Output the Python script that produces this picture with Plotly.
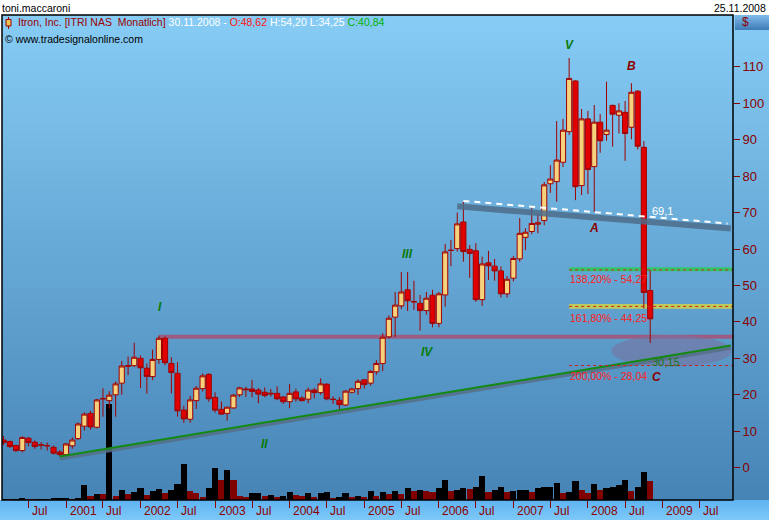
import zlib, struct, base64
import pandas as pd
import plotly.graph_objects as go

# ---------------- data ----------------
months = pd.date_range("2000-03-01", "2008-11-01", freq="MS")

opens = [7.6, 7.2, 6.1, 4.7, 8.1, 7.0, 6.3, 6.1, 5.6, 4.3,
         3.6, 6.0, 8.0, 11.4, 14.9, 11.1, 19.0, 18.4, 20.0, 23.2, 27.8, 28.0,
         30.0, 27.3, 25.0, 29.7, 35.5, 28.6, 25.9, 15.8, 13.3, 18.4, 21.7, 25.6,
         19.3, 16.0, 14.9, 16.4, 20.0, 21.6, 21.6, 21.3, 20.7, 20.2, 20.4, 19.4,
         18.1, 20.8, 19.1, 18.8, 21.3, 20.6, 22.9, 18.8, 18.5, 17.2, 20.7, 21.7,
         24.1, 23.2, 26.3, 28.6, 35.9, 41.3, 44.4, 48.8, 45.6, 45.1, 43.1, 47.3,
         39.6, 47.4, 59.7, 60.1, 67.4, 59.9, 59.5, 46.1, 56.2, 55.3, 54.0, 47.7,
         52.0, 57.3, 63.2, 64.8, 66.8, 67.8, 77.9, 78.5, 83.8, 92.2, 106.1, 77.4,
         95.7, 82.6, 94.8, 91.4, 99.4, 96.7, 97.5, 93.4, 103.3, 87.9, 48.62]
highs = [8.7, 7.4, 6.3, 8.6, 8.4, 7.5, 7.0, 6.9, 6.1, 4.8,
         6.8, 8.3, 12.4, 15.2, 15.6, 18.9, 21.8, 21.0, 23.7, 29.3, 30.5, 34.3,
         30.8, 28.6, 32.4, 36.2, 36.0, 30.3, 29.0, 17.0, 19.7, 22.4, 25.9, 25.9,
         20.7, 18.2, 16.7, 20.2, 22.2, 22.2, 24.1, 21.9, 22.0, 21.6, 22.3, 19.7,
         23.0, 21.7, 19.6, 22.0, 21.9, 24.5, 23.2, 19.6, 19.4, 21.3, 21.9, 24.3,
         24.3, 26.8, 29.5, 36.9, 41.8, 48.2, 53.7, 53.7, 51.3, 47.4, 48.2, 48.8,
         48.2, 61.4, 62.5, 70.0, 72.9, 61.1, 61.6, 57.9, 59.5, 57.3, 55.2, 52.6,
         58.1, 68.5, 65.7, 71.2, 69.8, 78.4, 83.0, 95.1, 95.7, 112.4, 106.3, 98.4,
         97.9, 99.5, 97.0, 105.9, 99.6, 100.0, 100.6, 105.5, 103.6, 89.6, 54.20]
lows = [6.2, 5.4, 4.3, 4.2, 5.9, 5.2, 5.0, 4.7, 3.6, 3.1,
        3.2, 5.2, 7.6, 10.2, 10.4, 10.8, 14.0, 16.2, 14.0, 20.0, 25.4, 27.6,
        21.9, 20.3, 24.0, 28.5, 28.1, 20.4, 14.0, 12.3, 12.3, 16.1, 20.9, 18.1,
        15.1, 14.5, 12.9, 16.2, 19.4, 19.4, 19.3, 17.7, 19.3, 19.5, 18.5, 17.5,
        16.3, 18.1, 18.2, 17.7, 19.0, 20.0, 18.5, 17.5, 16.0, 16.9, 20.4, 20.0,
        21.7, 22.5, 25.5, 26.5, 35.4, 35.9, 43.5, 43.0, 43.3, 37.6, 42.0, 38.5,
        38.5, 44.2, 55.3, 59.3, 56.5, 52.1, 45.5, 44.4, 51.5, 51.3, 46.7, 46.7,
        51.1, 56.5, 59.7, 64.1, 64.3, 66.5, 75.4, 73.0, 82.5, 91.3, 73.4, 74.8,
        75.1, 70.2, 86.4, 89.7, 88.1, 91.7, 84.2, 90.1, 87.3, 43.7, 34.25]
closes = [6.9, 5.8, 4.7, 8.3, 6.9, 5.8, 6.2, 6.0, 4.0, 3.6,
          6.5, 7.6, 12.0, 14.7, 11.2, 18.6, 18.9, 19.9, 23.0, 27.9, 28.0, 30.3,
          27.4, 25.0, 29.7, 35.5, 28.8, 26.1, 15.6, 13.4, 18.6, 21.8, 25.2, 18.9,
          15.8, 14.7, 16.6, 19.9, 21.9, 21.4, 20.9, 20.2, 19.8, 20.4, 18.9, 18.1,
          20.4, 18.9, 18.4, 21.3, 20.6, 23.0, 18.9, 18.7, 17.3, 21.0, 21.6, 23.7,
          22.8, 26.4, 28.6, 35.8, 41.0, 44.6, 48.2, 45.8, 45.5, 43.1, 46.5, 39.6,
          47.7, 59.2, 59.6, 66.9, 59.3, 58.8, 46.1, 55.9, 55.4, 54.0, 47.7, 51.7,
          57.4, 64.3, 64.6, 67.0, 67.2, 77.6, 79.2, 84.4, 92.6, 106.8, 77.1, 95.7,
          81.8, 94.8, 89.7, 92.6, 97.0, 97.9, 91.7, 103.0, 88.2, 48.1, 40.84]
volume = [0.05, 0.03, 0.03, 0.13, 0.05, 0.03, 0.03, 0.05, 0.13, 0.13,
          0.23, 0.10, 0.23, 1.53, 0.43, 0.63, 0.60, 9.60, 0.43, 1.03, 0.63, 0.83,
          1.23, 0.53, 0.93, 1.13, 0.73, 1.03, 1.63, 3.63, 0.93, 0.73, 0.33, 1.23,
          3.23, 2.03, 3.03, 2.03, 0.43, 0.33, 0.73, 0.75, 0.43, 0.53, 0.33, 0.36,
          0.83, 0.53, 0.43, 0.73, 0.33, 0.73, 0.83, 0.23, 0.33, 0.73, 0.33, 0.43,
          0.33, 0.93, 0.43, 0.83, 0.63, 0.93, 0.63, 1.23, 0.93, 1.03, 0.93, 0.83,
          1.23, 2.03, 0.93, 1.03, 1.23, 1.13, 1.33, 2.43, 0.83, 1.03, 1.33, 0.83,
          0.93, 1.03, 1.04, 0.83, 1.23, 1.32, 1.34, 1.73, 0.73, 0.83, 1.93, 1.03,
          0.73, 1.63, 1.03, 1.23, 1.33, 1.53, 2.03, 0.93, 1.33, 2.83, 1.93]

tick_dates = ["2000-07-01", "2001-01-01", "2001-07-01", "2002-01-01", "2002-07-01",
              "2003-01-01", "2003-07-01", "2004-01-01", "2004-07-01", "2005-01-01",
              "2005-07-01", "2006-01-01", "2006-07-01", "2007-01-01", "2007-07-01",
              "2008-01-01", "2008-07-01", "2009-01-01", "2009-07-01"]
tick_labels = ["Jul", "2001", "Jul", "2002", "Jul", "2003", "Jul", "2004", "Jul", "2005",
               "Jul", "2006", "Jul", "2007", "Jul", "2008", "Jul", "2009", "Jul"]
price_ticks = [0, 10, 20, 30, 40, 50, 60, 70, 80, 90, 100, 110]

# trend lines (anchor points)
support_x = ["2000-12-01", "2009-12-01"]
support_y = [3.1, 33.5]
neck_x = ["2006-04-01", "2009-12-01"]
neck_y = [71.7, 65.6]
dash_x = ["2006-05-01", "2009-11-15"]
dash_y = [73.2, 67.0]

# horizontal levels
resist_level = [35.35, 36.45]
resist_start = "2002-04-01"
fib_start = "2007-10-01"
fib_pct = ["138,20%", "161,80%", "200,00%"]
fib_val = [54.27, 44.25, 28.04]
fib_band_lo = [53.88, 43.60]
fib_band_hi = [54.98, 44.90]
target_x = ["2008-04-25", "2009-12-05"]
target_y = [27.7, 36.4]

# ---------------- geometry helpers ----------------
W, H = 769, 520
L, R, T, B = 2, 36, 15, 20
PW, PH = W - L - R, H - T - B


def px(x):
    return (x - L) / PW


def py(y):
    return (H - B - y) / PH


BASE = pd.Timestamp("2001-01-01")


def mdate(m):
    return BASE + pd.Timedelta(days=m * 30.4375)


X_LEFT, X_RIGHT = mdate(-10.30), mdate(107.32)
PRICE_RANGE = [-8.86, 124.2]


def grad_png(top, bottom, h):
    raw = b""
    for i in range(h):
        t = i / (h - 1)
        raw += b"\x00" + bytes(int(round(top[k] + (bottom[k] - top[k]) * t)) for k in range(3))

    def chunk(tag, data):
        return (struct.pack(">I", len(data)) + tag + data +
                struct.pack(">I", zlib.crc32(tag + data) & 0xffffffff))
    png = (b"\x89PNG\r\n\x1a\n" +
           chunk(b"IHDR", struct.pack(">IIBBBBB", 1, h, 8, 2, 0, 0, 0)) +
           chunk(b"IDAT", zlib.compress(raw)) + chunk(b"IEND", b""))
    return "data:image/png;base64," + base64.b64encode(png).decode()


DARKRED = "#8B0000"
NARROW = "Liberation Sans Narrow, Arial Narrow, Liberation Sans, Arial"
SANS = "Liberation Sans, Arial"

fig = go.Figure()

# volume (hidden axis y)
vcolors = ["#000000"] + ["#000000" if volume[i] >= volume[i - 1] else "#800000"
                         for i in range(1, len(volume))]
fig.add_trace(go.Bar(x=months, y=volume, marker=dict(color=vcolors, line=dict(width=0)),
                     width=30 * 86400000, yaxis="y", hoverinfo="skip", showlegend=False))

# trend-line shadows and lines
fig.add_trace(go.Scatter(x=neck_x, y=neck_y, mode="lines", yaxis="y2",
                         line=dict(color="rgba(78,108,138,0.85)", width=6),
                         hoverinfo="skip", showlegend=False))
fig.add_trace(go.Scatter(x=dash_x, y=dash_y, mode="lines", yaxis="y2",
                         line=dict(color="white", width=2, dash="6px,5px"),
                         hoverinfo="skip", showlegend=False))
fig.add_trace(go.Scatter(x=support_x, y=[v - 0.6 for v in support_y], mode="lines", yaxis="y2",
                         line=dict(color="rgba(85,110,135,0.85)", width=4),
                         hoverinfo="skip", showlegend=False))
fig.add_trace(go.Scatter(x=support_x, y=support_y, mode="lines", yaxis="y2",
                         line=dict(color="#138a13", width=2),
                         hoverinfo="skip", showlegend=False))

# fib dotted lines
for v in fib_val:
    fig.add_trace(go.Scatter(x=[fib_start, X_RIGHT], y=[v, v], mode="lines", yaxis="y2",
                             line=dict(color="#d02020", width=1, dash="dot"),
                             hoverinfo="skip", showlegend=False))

# candles
fig.add_trace(go.Candlestick(
    x=months, open=opens, high=highs, low=lows, close=closes, yaxis="y2",
    increasing=dict(line=dict(color="#A00000", width=1), fillcolor="#F6D27C"),
    decreasing=dict(line=dict(color="#A00000", width=1), fillcolor="#E00000"),
    whiskerwidth=0, hoverinfo="skip", showlegend=False))

shapes = []
# bands
shapes.append(dict(type="rect", xref="x", yref="y2", x0=resist_start, x1=X_RIGHT,
                   y0=resist_level[0], y1=resist_level[1], fillcolor="rgba(190,60,90,0.65)",
                   line=dict(width=0), layer="below"))
shapes.append(dict(type="rect", xref="x", yref="y2", x0=fib_start, x1=X_RIGHT,
                   y0=fib_band_lo[0], y1=fib_band_hi[0], fillcolor="rgba(40,205,80,0.8)",
                   line=dict(width=0), layer="below"))
shapes.append(dict(type="rect", xref="x", yref="y2", x0=fib_start, x1=X_RIGHT,
                   y0=fib_band_lo[1], y1=fib_band_hi[1], fillcolor="rgba(205,210,70,0.85)",
                   line=dict(width=0), layer="below"))
shapes.append(dict(type="circle", xref="x", yref="y2", x0=target_x[0], x1=target_x[1],
                   y0=target_y[0], y1=target_y[1], fillcolor="rgba(120,115,160,0.6)",
                   line=dict(width=0), layer="below"))
# plot border
shapes.append(dict(type="rect", xref="paper", yref="paper", x0=0, x1=1, y0=0, y1=1,
                   line=dict(color="black", width=1.5), layer="above"))
# legend glyph
shapes.append(dict(type="line", xref="paper", yref="paper", x0=px(8.5), x1=px(8.5),
                   y0=py(17), y1=py(29), line=dict(color="#990000", width=1)))
shapes.append(dict(type="rect", xref="paper", yref="paper", x0=px(6), x1=px(11),
                   y0=py(19.5), y1=py(26), fillcolor="#F0C050",
                   line=dict(color="#990000", width=1)))

images = [
    dict(source=grad_png((134, 204, 245), (70, 132, 182), 485), xref="paper", yref="paper",
         x=0, y=1, sizex=(W - L) / PW, sizey=1, sizing="stretch", layer="below",
         xanchor="left", yanchor="top"),
    dict(source=grad_png((95, 180, 242), (125, 200, 248), 20), xref="paper", yref="paper",
         x=px(0), y=0, sizex=W / PW, sizey=20 / PH, sizing="stretch", layer="below",
         xanchor="left", yanchor="top"),
    dict(source=grad_png((125, 185, 232), (65, 125, 185), 16), xref="paper", yref="paper",
         x=px(735), y=1, sizex=34 / PW, sizey=15 / PH, sizing="stretch", layer="below",
         xanchor="left", yanchor="top"),
]

ann = []


def add_text(x, y, text, color, size=11, family=SANS, xanchor="left", **kw):
    ann.append(dict(x=px(x), y=py(y), xref="paper", yref="paper", text=text, showarrow=False,
                    xanchor=xanchor, yanchor="middle", font=dict(color=color, size=size, family=family),
                    **kw))


add_text(0, 7.5, "toni.maccaroni", "black", 10.5)
add_text(768, 7.5, "25.11.2008", "black", 10.5, xanchor="right")
add_text(16, 22.5,
         "Itron, Inc. [ITRI NAS\u00a0\u00a0Monatlich] "
         "<span style='color:white'>30.11.2008 - </span>"
         "<span style='color:#ff1010'>O:48,62 </span>"
         "<span style='color:white'>H:54,20 L:34,25 </span>"
         "<span style='color:#00b000'>C:40,84</span>", "#990000", 10.5)
add_text(3, 38.5, "\u00a9 www.tradesignalonline.com", "black", 10.5)
add_text(740, 22.5, "$", DARKRED, 12)

# fib labels
for pct, v, yy in zip(fib_pct, fib_val, [278.5, 317.5, 375.5]):
    add_text(568, yy, f"{pct} - {v:.2f}".replace(".", ","), "#ff2020", 10.5)
add_text(650, 210.5, "69,1", "white", 11)
add_text(650, 362, "30,15", "#127a12", 11)

# wave labels
GREEN_W = "#0a7a0a"
RED_W = "#8B0000"
for txt, x, y, c in [("I", 159.5, 306.5, GREEN_W), ("II", 264.5, 443.5, GREEN_W),
                     ("III", 407.5, 253.5, GREEN_W), ("IV", 427, 351.5, GREEN_W),
                     ("V", 569, 44.5, GREEN_W), ("A", 594, 227.5, RED_W),
                     ("B", 631, 66.5, RED_W), ("C", 656, 377, RED_W)]:
    add_text(x, y, f"<b><i>{txt}</i></b>", c, 12, "Liberation Sans, Arial", xanchor="center")

# x tick labels
for d, lab in zip(tick_dates, tick_labels):
    ann.append(dict(x=d, xref="x", y=py(511.5), yref="paper", text=lab, showarrow=False,
                    xanchor="left", yanchor="middle", xshift=1.5,
                    font=dict(color=DARKRED, size=12, family=NARROW)))

fig.update_layout(
    width=W, height=H, margin=dict(l=L, r=R, t=T, b=B, pad=0),
    paper_bgcolor="white", plot_bgcolor="rgba(0,0,0,0)",
    showlegend=False, bargap=0, boxgap=0.1, boxgroupgap=0,
    xaxis=dict(type="date", range=[X_LEFT, X_RIGHT], tickvals=tick_dates, showticklabels=False,
               ticks="outside", ticklen=7, tickwidth=1, tickcolor=DARKRED,
               showgrid=False, zeroline=False, showline=False, rangeslider=dict(visible=False),
               fixedrange=True),
    yaxis=dict(range=[0, 48.5], visible=False, fixedrange=True),
    yaxis2=dict(range=PRICE_RANGE, overlaying="y", side="right", anchor="x",
                tickvals=price_ticks, ticks="outside", ticklen=6, tickwidth=1, tickcolor=DARKRED,
                tickfont=dict(color=DARKRED, size=13, family=NARROW),
                showgrid=False, zeroline=False, showline=False, fixedrange=True),
    shapes=shapes, images=images, annotations=ann,
)

fig.write_html("out.html", config={"displayModeBar": False},
               post_script="document.body.style.margin='0';document.body.style.overflow='hidden';")
